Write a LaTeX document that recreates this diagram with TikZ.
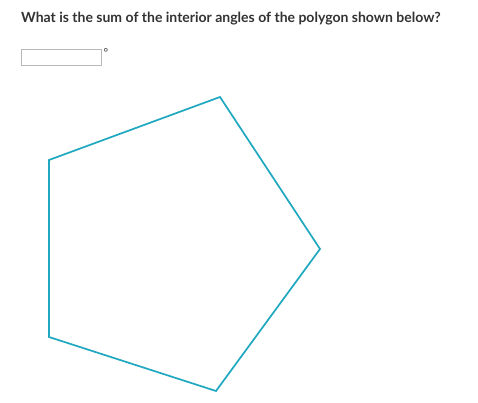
\documentclass[tikz,border=0pt]{standalone}
\usepackage{fontspec}
\setmainfont{Lato}
\definecolor{polyc}{HTML}{1FA8C0}
\definecolor{txtc}{HTML}{333333}
\definecolor{boxc}{HTML}{B8B8B8}
\begin{document}
\begin{tikzpicture}[x=1pt,y=1pt,
  poly/.style={draw=polyc,line width=1.7pt,line join=miter},
  question/.style={anchor=base west,inner sep=0pt,text=txtc,font=\bfseries\fontsize{14.0}{16}\selectfont},
  answerbox/.style={draw=boxc,line width=0.8pt,minimum width=80pt,minimum height=16pt,inner sep=0pt,anchor=north west}]
\useasboundingbox (0,0) rectangle (478,403);
\fill[white] (0,0) rectangle (478,403);
\node[question] (q) at (21,380) {What is the sum of the interior angles of the polygon shown below?};
\node[answerbox] (box) at (21,354) {};
\node[anchor=north west,inner sep=0pt,text=txtc,font=\fontsize{11}{11}\selectfont] (deg) at ([xshift=1.5pt,yshift=1pt]box.north east) {°};
\coordinate (A) at (220,306);
\coordinate (B) at (320,154);
\coordinate (C) at (216,12);
\coordinate (D) at (49,66);
\coordinate (E) at (49,243);
\draw[poly] (A) -- (B) -- (C) -- (D) -- (E) -- cycle;
\end{tikzpicture}
\end{document}
